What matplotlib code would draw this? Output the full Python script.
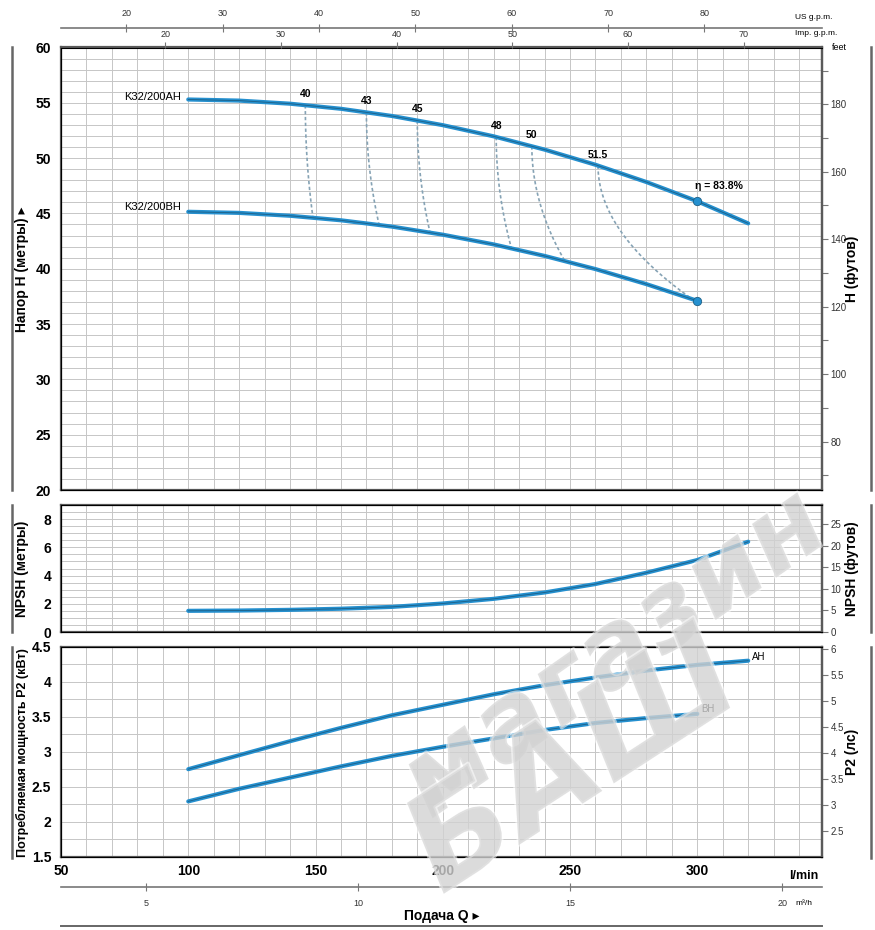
import numpy as np
import matplotlib
matplotlib.use("Agg")
import matplotlib.pyplot as plt
from matplotlib.ticker import MultipleLocator, FixedLocator
from matplotlib.lines import Line2D
import matplotlib.patheffects as pe

plt.rcParams['font.family'] = ['Liberation Sans Narrow', 'Liberation Sans', 'DejaVu Sans']

# ---------------- data ----------------
q_ah = [100, 120, 140, 160, 180, 200, 220, 240, 260, 280, 300, 320]
h_ah = [55.3, 55.2, 54.92, 54.46, 53.81, 52.98, 51.97, 50.77, 49.4, 47.84, 46.1, 44.1]
q_bh = [100, 120, 140, 160, 180, 200, 220, 240, 260, 280, 300]
h_bh = [45.15, 45.05, 44.79, 44.38, 43.81, 43.08, 42.2, 41.16, 39.97, 38.61, 37.1]

eff_labels = ['40', '43', '45', '48', '50', '51.5']
eff_q_top = [146, 170, 190, 221, 235, 261]
eff_q_bottom = [149, 175, 195, 227, 248, 298]
best_q = 300
best_label = 'η = 83.8%'

q_npsh = [100, 120, 140, 160, 180, 200, 220, 240, 260, 280, 300, 320]
npsh = [1.5, 1.52, 1.57, 1.65, 1.78, 2.02, 2.35, 2.8, 3.4, 4.2, 5.1, 6.4]

q_p_ah = [100, 120, 140, 160, 180, 200, 220, 240, 260, 280, 300, 320]
p_ah = [2.75, 2.95, 3.15, 3.34, 3.52, 3.67, 3.82, 3.95, 4.06, 4.16, 4.24, 4.3]
q_p_bh = [100, 120, 140, 160, 180, 200, 220, 240, 260, 280, 300]
p_bh = [2.29, 2.47, 2.63, 2.79, 2.94, 3.07, 3.19, 3.31, 3.41, 3.48, 3.54]

lpm_ticks = [50, 100, 150, 200, 250, 300]
m3h_ticks = [5, 10, 15, 20]
usgpm_ticks = [20, 30, 40, 50, 60, 70, 80]
impgpm_ticks = [20, 30, 40, 50, 60, 70]
head_ticks = [20, 25, 30, 35, 40, 45, 50, 55, 60]
npsh_ticks = [0, 2, 4, 6, 8]
kw_ticks = [1.5, 2, 2.5, 3, 3.5, 4, 4.5]
feet_ticks = [80, 100, 120, 140, 160, 180]
npsh_ft_ticks = [0, 5, 10, 15, 20, 25]
hp_ticks = [2.5, 3, 3.5, 4, 4.5, 5, 5.5, 6]

M_TO_FT = 3.28084
KW_TO_HP = 1.341
LPM_TO_US = 0.264172
LPM_TO_IMP = 0.219969
LPM_TO_M3H = 0.06

# ---------------- layout ----------------
W, H = 875, 930
fig = plt.figure(figsize=(W / 100, H / 100), dpi=100)


def rect(l, t, r, b):
    return [l / W, 1 - b / H, (r - l) / W, (b - t) / H]


def fmt(v):
    return ('%g' % v)


L, R = 61, 822
XMIN, XMAX = 50, 349
ax1 = fig.add_axes(rect(L, 47.5, R, 490))
ax2 = fig.add_axes(rect(L, 505, R, 632))
ax3 = fig.add_axes(rect(L, 646.7, R, 856.7))

GRID = '#c6c6c6'
SPINE = '#5a5a5a'
BLUE = '#2590cf'
DARK = '#1d5f86'
TICKFONT = dict(fontsize=10, fontweight='bold')

for ax, (y0, y1, ymin, ticks) in zip(
        [ax1, ax2, ax3], [(20, 60, 1, head_ticks), (0, 9, 0.5, npsh_ticks),
                          (1.5, 4.5, 0.25, kw_ticks)]):
    ax.set_xlim(XMIN, XMAX)
    ax.set_ylim(y0, y1)
    ax.xaxis.set_major_locator(MultipleLocator(50))
    ax.xaxis.set_minor_locator(MultipleLocator(10))
    ax.set_yticks(ticks)
    ax.set_yticklabels([fmt(v) for v in ticks], **TICKFONT)
    ax.yaxis.set_minor_locator(MultipleLocator(ymin))
    ax.grid(which='both', color=GRID, lw=0.7)
    ax.set_axisbelow(True)
    for s in ax.spines.values():
        s.set_color(SPINE)
        s.set_linewidth(1.6)
    ax.tick_params(axis='both', which='both', length=0, pad=7)
    ax.tick_params(axis='x', labelbottom=False)

# bottom l/min labels
ax3.tick_params(axis='x', labelbottom=True, pad=5)
ax3.set_xticks(lpm_ticks)
ax3.set_xticklabels([fmt(v) for v in lpm_ticks], **TICKFONT)
ax3.xaxis.set_minor_locator(MultipleLocator(10))
ax3.annotate('l/min', (0.995, 0), xycoords='axes fraction', xytext=(0, -14),
             textcoords='offset points', ha='right', va='center', fontsize=9, fontweight='bold')


def draw_curve(ax, x, y):
    ax.plot(x, y, color=BLUE, lw=3.0, solid_capstyle='round', zorder=3)
    ax.plot(x, y, color=DARK, lw=0.6, zorder=4)


# ---------------- head ----------------
draw_curve(ax1, q_ah, h_ah)
draw_curve(ax1, q_bh, h_bh)
for qt, qb, lab in zip(eff_q_top, eff_q_bottom, eff_labels):
    ht = np.interp(qt, q_ah, h_ah)
    hb = np.interp(qb, q_bh, h_bh)
    t = np.linspace(0, 1, 40)
    ax1.plot(qt + (qb - qt) * t ** 2, ht + (hb - ht) * t, color='#86a3b5',
             lw=1.2, ls=(0, (2.0, 1.5)), zorder=2)
    ax1.annotate(lab, (qt, ht), xytext=(0, 8), textcoords='offset points', ha='center',
                 va='center', fontsize=7.5, fontweight='bold')
hbest_a = np.interp(best_q, q_ah, h_ah)
hbest_b = np.interp(best_q, q_bh, h_bh)
ax1.plot([best_q, best_q], [hbest_a, hbest_b], 'o', color=BLUE, ms=6, mec=DARK, mew=0.6, zorder=5)
ax1.annotate(best_label, (best_q, hbest_a), xytext=(-2, 11), textcoords='offset points',
             ha='left', va='center', fontsize=7.5, fontweight='bold')
ax1.text(97, 55.5, 'K32/200AH', ha='right', va='center', fontsize=8)
ax1.text(97, 45.6, 'K32/200BH', ha='right', va='center', fontsize=8)

# right feet axis
ax1r = ax1.twinx()
ax1r.set_ylim(20 * M_TO_FT, 60 * M_TO_FT)
ax1r.set_yticks(feet_ticks)
ax1r.yaxis.set_minor_locator(FixedLocator([70, 90, 110, 130, 150, 170, 190]))
ax1r.tick_params(axis='y', which='both', length=4, width=0.8, color='#777', labelsize=7,
                 labelcolor='#333', pad=2)
ax1r.spines['right'].set_color(SPINE)
ax1r.spines['right'].set_linewidth(1.6)
ax1r.annotate('feet', (1.0, 1.0), xycoords='axes fraction', xytext=(7, 0),
              textcoords='offset points', ha='left', va='center', fontsize=6.5)

# imp gpm on top spine
ax1t = ax1.twiny()
ax1t.set_xlim(XMIN, XMAX)
ax1t.set_xticks([v / LPM_TO_IMP for v in impgpm_ticks])
ax1t.set_xticklabels([fmt(v) for v in impgpm_ticks])
ax1t.tick_params(axis='x', length=4, width=0.8, color='#777', labelsize=6.5, labelcolor='#333', pad=2)
ax1t.tick_params(axis='y', left=False, right=False, labelleft=False, labelright=False)
for s in ax1t.spines.values():
    s.set_visible(False)
ax1t.annotate('Imp. g.p.m.', (0.965, 1.0), xycoords='axes fraction', xytext=(0, 10),
              textcoords='offset points', ha='left', va='center', fontsize=6)

# US gpm axis line
axus = fig.add_axes(rect(L, 28, R, 28.5))
axus.set_xlim(XMIN, XMAX)
axus.set_ylim(0, 1)
for k in ['left', 'right', 'top']:
    axus.spines[k].set_visible(False)
axus.spines['bottom'].set_color('#777')
axus.spines['bottom'].set_linewidth(1.2)
axus.set_yticks([])
axus.xaxis.set_ticks_position('top')
axus.set_xticks([v / LPM_TO_US for v in usgpm_ticks])
axus.set_xticklabels([fmt(v) for v in usgpm_ticks])
axus.tick_params(axis='x', direction='inout', length=6, width=0.8, color='#777', labelsize=6.5,
                 labelcolor='#333', pad=4)
axus.patch.set_alpha(0)
axus.annotate('US g.p.m.', (0.965, 0.0), xycoords='axes fraction', xytext=(0, 8),
              textcoords='offset points', ha='left', va='center', fontsize=6)

# ---------------- NPSH ----------------
draw_curve(ax2, q_npsh, npsh)
ax2r = ax2.twinx()
ax2r.set_ylim(0, 9 * M_TO_FT)
ax2r.set_yticks(npsh_ft_ticks)
ax2r.tick_params(axis='y', length=4, width=0.8, color='#777', labelsize=7, labelcolor='#333', pad=2)
ax2r.spines['right'].set_color(SPINE)
ax2r.spines['right'].set_linewidth(1.6)

# ---------------- power ----------------
draw_curve(ax3, q_p_ah, p_ah)
draw_curve(ax3, q_p_bh, p_bh)
ax3.text(q_p_ah[-1] + 1.5, p_ah[-1] + 0.05, 'AH', ha='left', va='center', fontsize=7)
ax3.text(q_p_bh[-1] + 1.5, p_bh[-1] + 0.07, 'BH', ha='left', va='center', fontsize=7)
ax3r = ax3.twinx()
ax3r.set_ylim(1.5 * KW_TO_HP, 4.5 * KW_TO_HP)
ax3r.set_yticks(hp_ticks)
ax3r.set_yticklabels([fmt(v) for v in hp_ticks])
ax3r.tick_params(axis='y', length=4, width=0.8, color='#777', labelsize=7, labelcolor='#333', pad=2)
ax3r.spines['right'].set_color(SPINE)
ax3r.spines['right'].set_linewidth(1.6)

# m3/h axis line
axm = fig.add_axes(rect(L, 886, R, 886.5))
axm.set_xlim(XMIN, XMAX)
axm.set_ylim(0, 1)
for k in ['left', 'right', 'top']:
    axm.spines[k].set_visible(False)
axm.spines['bottom'].set_color('#777')
axm.spines['bottom'].set_linewidth(1.2)
axm.set_yticks([])
axm.set_xticks([v / LPM_TO_M3H for v in m3h_ticks])
axm.set_xticklabels([fmt(v) for v in m3h_ticks])
axm.tick_params(axis='x', direction='inout', length=6, width=0.8, color='#777', labelsize=6.5,
                labelcolor='#333', pad=6)
axm.patch.set_alpha(0)
axm.annotate('m³/h', (0.965, 0.0), xycoords='axes fraction', xytext=(0, -12),
             textcoords='offset points', ha='left', va='center', fontsize=6)

# bottom label and line
fig.text((L + R) / 2 / W, 1 - 916 / H, 'Подача Q ▸', ha='center', va='center',
         fontsize=10, fontweight='bold')
fig.add_artist(Line2D([L / W, R / W], [1 - 926 / H] * 2, color='#666', lw=1.4))

# side labels and bars
for (t, b, txt) in [(47.5, 490, 'Напор H (метры) ▸'), (505, 632, 'NPSH (метры)'),
                    (646.7, 858, 'Потребляемая мощность P2 (кВт)')]:
    fig.add_artist(Line2D([12 / W] * 2, [1 - t / H, 1 - b / H], color='#666', lw=1.8))
    fs = 9 if len(txt) > 20 else 10
    fig.text(22 / W, 1 - (t + b) / 2 / H, txt, rotation=90, ha='center', va='center',
             fontsize=fs, fontweight='bold')
for (t, b, txt) in [(47.5, 490, 'H (футов)'), (505, 632, 'NPSH (футов)'), (646.7, 858, 'P2 (лс)')]:
    fig.add_artist(Line2D([871 / W] * 2, [1 - t / H, 1 - b / H], color='#666', lw=1.8))
    fig.text(852 / W, 1 - (t + b) / 2 / H, txt, rotation=90, ha='center', va='center',
             fontsize=10, fontweight='bold')

# watermark (light, semi-transparent, as in the reference image)
wm_effects = [pe.withStroke(linewidth=2.5, foreground='white')]
fig.text(615 / W, 1 - 655 / H, 'магазин', rotation=35, ha='center', va='center',
         fontsize=76, fontweight='bold', style='italic', color='#d2d2d2', alpha=0.55,
         family='DejaVu Sans', path_effects=wm_effects, zorder=20)
fig.text(575 / W, 1 - 765 / H, 'БАШ', rotation=33, ha='center', va='center',
         fontsize=95, fontweight='bold', style='italic', color='#d2d2d2', alpha=0.55,
         family='DejaVu Sans', path_effects=wm_effects, zorder=20)

fig.savefig('out.png', dpi=100)
